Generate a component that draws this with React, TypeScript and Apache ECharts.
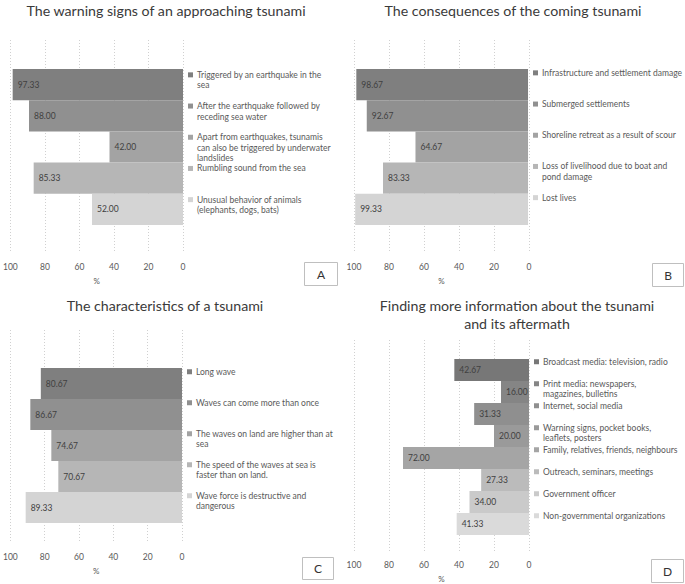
import React, { useEffect, useRef } from "react";
import * as echarts from "echarts";

const titleA = "The warning signs of an approaching tsunami";
const catsA = [
  "Triggered by an earthquake in the\nsea",
  "After the earthquake followed by\nreceding sea water",
  "Apart from earthquakes, tsunamis\ncan also be triggered by underwater\nlandslides",
  "Rumbling sound from the sea",
  "Unusual behavior of animals\n(elephants, dogs, bats)",
];
const valsA = [97.33, 88.0, 42.0, 85.33, 52.0];

const titleB = "The consequences of the coming tsunami";
const catsB = [
  "Infrastructure and settlement damage",
  "Submerged settlements",
  "Shoreline retreat as a result of scour",
  "Loss of livelihood due to boat and\npond damage",
  "Lost lives",
];
const valsB = [98.67, 92.67, 64.67, 83.33, 99.33];

const titleC = "The characteristics of a tsunami";
const catsC = [
  "Long wave",
  "Waves can come more than once",
  "The waves on land are higher than at\nsea",
  "The speed of the waves at sea is\nfaster than on land.",
  "Wave force is destructive and\ndangerous",
];
const valsC = [80.67, 86.67, 74.67, 70.67, 89.33];

const titleD = "Finding more information about the tsunami\nand its aftermath";
const catsD = [
  "Broadcast media: television, radio",
  "Print media: newspapers,\nmagazines, bulletins",
  "Internet, social media",
  "Warning signs, pocket books,\nleaflets, posters",
  "Family, relatives, friends, neighbours",
  "Outreach, seminars, meetings",
  "Government officer",
  "Non-governmental organizations",
];
const valsD = [42.67, 16.0, 31.33, 20.0, 72.0, 27.33, 34.0, 41.33];

const axisTicks = { min: 0, max: 100, interval: 20 };
const panelLetters = ["A", "B", "C", "D"];

const colors5 = ["#7f7f7f", "#909090", "#a3a3a3", "#b6b6b6", "#d4d4d4"];
const colors8 = ["#777777", "#858585", "#8f8f8f", "#9a9a9a", "#a5a5a5", "#bbbbbb", "#cacaca", "#dadada"];

const FONT = "Lato";

type Panel = {
  title: string;
  cats: string[];
  vals: number[];
  colors: string[];
  left: number;
  bgTop: number;
  bgH: number;
  barTop: number;
  barH: number;
  labelH: number;
  titleX: number;
  titleTop: number;
  box: [number, number, number, number];
};

const panels: Panel[] = [
  { title: titleA, cats: catsA, vals: valsA, colors: colors5, left: 8, bgTop: 40, bgH: 213, barTop: 69, barH: 156, labelH: 30, titleX: 166, titleTop: 1, box: [304, 262, 33, 23] },
  { title: titleB, cats: catsB, vals: valsB, colors: colors5, left: 354, bgTop: 40, bgH: 213, barTop: 69, barH: 156, labelH: 34, titleX: 513, titleTop: 1, box: [652, 263, 31, 23] },
  { title: titleC, cats: catsC, vals: valsC, colors: colors5, left: 7, bgTop: 330, bgH: 213, barTop: 368, barH: 155, labelH: 34, titleX: 165, titleTop: 296, box: [302, 557, 31, 22] },
  { title: titleD, cats: catsD, vals: valsD, colors: colors8, left: 354, bgTop: 340, bgH: 213, barTop: 359, barH: 176, labelH: 27, titleX: 517, titleTop: 296, box: [651, 559, 32, 23] },
];

function buildOption() {
  const grid: any[] = [];
  const xAxis: any[] = [];
  const yAxis: any[] = [];
  const series: any[] = [];
  const title: any[] = [];
  const graphic: any[] = [];
  const W = 175;

  panels.forEach((p, pi) => {
    const bgIdx = grid.length;
    grid.push({ left: p.left, top: p.bgTop, width: W, height: p.bgH });
    const barIdx = grid.length;
    grid.push({ left: p.left, top: p.barTop, width: W, height: p.barH });

    xAxis.push({
      gridIndex: bgIdx,
      type: "value",
      ...axisTicks,
      inverse: true,
      axisLine: { show: false },
      axisTick: { show: false },
      axisLabel: { fontSize: 8.5, color: "#595959", margin: 9, fontFamily: FONT },
      splitLine: { show: true, lineStyle: { type: [1, 2], color: "#d0d0d0", width: 1 } },
      name: "%",
      nameLocation: "middle",
      nameGap: 24,
      nameTextStyle: { fontSize: 8, color: "#595959", fontFamily: FONT },
    });
    yAxis.push({ gridIndex: bgIdx, type: "value", min: 0, max: 1, show: false });

    const barX = xAxis.length;
    xAxis.push({ gridIndex: barIdx, type: "value", ...axisTicks, inverse: true, show: false });
    const barY = yAxis.length;

    const rich: any = {
      t: { fontSize: 8.5, color: "#595959", lineHeight: 10.5, fontFamily: FONT },
      g: { width: 4, height: 5, lineHeight: 10.5 },
      p: { width: 9, height: 5, lineHeight: 10.5 },
    };
    p.colors.forEach((c, i) => {
      rich["s" + i] = { width: 5, height: 5, lineHeight: 10.5, backgroundColor: c };
    });

    yAxis.push({
      gridIndex: barIdx,
      type: "category",
      data: p.cats,
      inverse: true,
      position: "right",
      axisLine: { show: false },
      axisTick: { show: false },
      splitLine: { show: false },
      axisLabel: {
        interval: 0,
        margin: 5,
        height: p.labelH,
        formatter: (value: string, index: number) =>
          value
            .split("\n")
            .map((line, li) => (li === 0 ? `{s${index}|}{g|}{t|${line}}` : `{p|}{t|${line}}`))
            .join("\n"),
        rich,
      },
    });

    series.push({
      type: "bar",
      xAxisIndex: barX,
      yAxisIndex: barY,
      barCategoryGap: 0,
      data: p.vals.map((v, i) => ({ value: v, itemStyle: { color: p.colors[i] } })),
      label: {
        show: true,
        position: "insideLeft",
        distance: 5,
        formatter: (d: any) => Number(d.value).toFixed(2),
        fontSize: 8.5,
        color: "#404040",
        fontFamily: FONT,
      },
    });

    title.push({
      text: p.title,
      left: p.titleX,
      top: p.titleTop,
      textAlign: "center",
      padding: 0,
      textStyle: { fontSize: 14.2, fontWeight: "normal", color: "#3a3a3a", lineHeight: 18, fontFamily: FONT },
    });

    const [bx, by, bw, bh] = p.box;
    graphic.push({
      type: "rect",
      shape: { x: bx + 0.5, y: by + 0.5, width: bw, height: bh },
      style: { fill: "#ffffff", stroke: "#bfbfbf", lineWidth: 1 },
    });
    graphic.push({
      type: "text",
      x: bx + bw / 2 + 0.5,
      y: by + bh / 2 + 0.5,
      style: {
        text: panelLetters[pi],
        fontSize: 12,
        fontFamily: FONT,
        fill: "#333333",
        align: "center",
        verticalAlign: "middle",
      },
    });
  });

  return { animation: false, backgroundColor: "#ffffff", title, grid, xAxis, yAxis, series, graphic };
}

export default function App() {
  const ref = useRef<HTMLDivElement>(null);
  useEffect(() => {
    if (!ref.current) return;
    const chart = echarts.init(ref.current, undefined, { renderer: "svg" });
    chart.setOption(buildOption() as any);
    return () => chart.dispose();
  }, []);
  return <div ref={ref} style={{ position: "absolute", left: 0, top: 0, width: 685, height: 584 }} />;
}
